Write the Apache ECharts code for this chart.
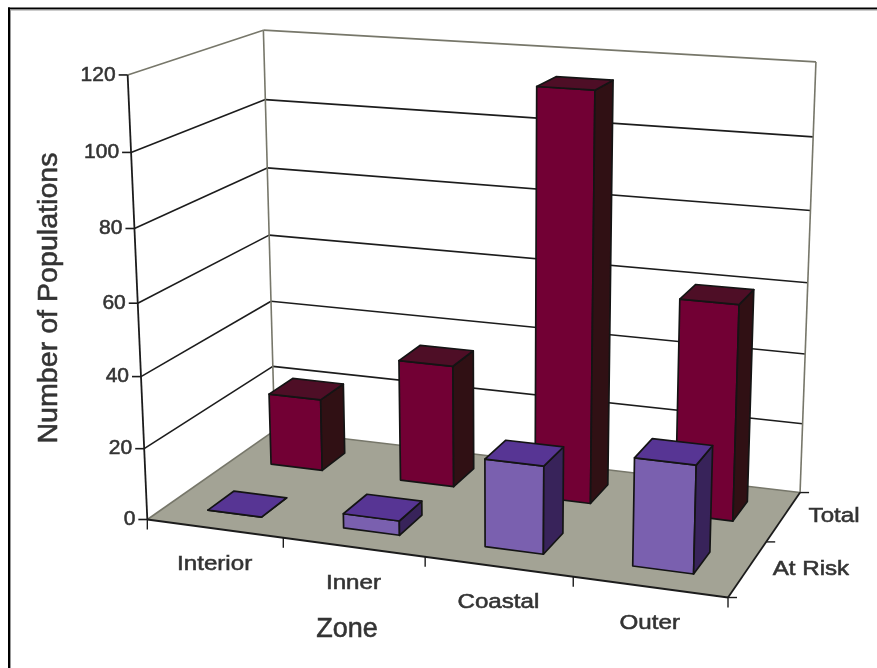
<!DOCTYPE html>
<html>
<head>
<meta charset="utf-8">
<style>html,body{margin:0;padding:0;background:#fff}#chart{width:877px;height:668px}</style>
<script src="https://cdn.jsdelivr.net/npm/echarts@6/dist/echarts.min.js"></script>
</head>
<body>
<div id="chart"></div>
<script>
// Populations per zone, front row first
const zones = ['Interior', 'Inner', 'Coastal', 'Outer'];
const rows = ['At Risk', 'Total'];
const atRisk = [0, 4, 24, 29];
const total = [21, 35, 114, 60];
const valueTicks = [0, 20, 40, 60, 80, 100, 120];
const xTitle = 'Zone';
const yTitle = 'Number of Populations';

const FONT = '"Liberation Sans", Arial, sans-serif';
const TEXT = '#333333';
const FLOOR = '#a3a395';
const WALL_EDGE = '#77776a';
const LINE = '#1c1c1c';
const EDGE = '#141414';
const PURPLE = { front: '#7a60af', top: '#573594', side: '#38235a' };
const MAROON = { front: '#720034', top: '#4e0e26', side: '#301014' };
const BAR_W = 0.40;  // share of a zone band taken by a column
const BAR_D = 0.40;  // share of a depth row taken by a column

// Box corners as [across, depth, height] in unit space, with their place on the page
const anchors = [
  [0, 0, 0, 147, 519], [0, 0, 1, 128, 75],
  [0, 1, 0, 275, 431], [0, 1, 1, 263, 30],
  [1, 1, 0, 800, 492], [1, 1, 1, 816, 62],
  [1, 0, 0, 728, 598]
];

// Least-squares fit of a projective camera to the box corners
function fitCamera(pts) {
  const n = 11, A = Array.from({ length: n }, () => new Array(n + 1).fill(0));
  const add = (row, rhs) => {
    for (let i = 0; i < n; i++) {
      for (let j = 0; j < n; j++) A[i][j] += row[i] * row[j];
      A[i][n] += row[i] * rhs;
    }
  };
  pts.forEach(([X, Y, Z, px, py]) => {
    const u = px / 1000, v = py / 1000;
    add([1, 0, X, 0, Y, 0, Z, 0, -u * X, -u * Y, -u * Z], u);
    add([0, 1, 0, X, 0, Y, 0, Z, -v * X, -v * Y, -v * Z], v);
  });
  for (let i = 0; i < n; i++) {
    let p = i;
    for (let r = i + 1; r < n; r++) if (Math.abs(A[r][i]) > Math.abs(A[p][i])) p = r;
    [A[i], A[p]] = [A[p], A[i]];
    for (let r = 0; r < n; r++) {
      if (r === i) continue;
      const f = A[r][i] / A[i][i];
      for (let c = i; c <= n; c++) A[r][c] -= f * A[i][c];
    }
  }
  return A.map((row, i) => row[n] / row[i]);
}
const cam = fitCamera(anchors);
function project(X, Y, Z) {
  const w = 1 + cam[8] * X + cam[9] * Y + cam[10] * Z;
  return [
    1000 * (cam[0] + cam[2] * X + cam[4] * Y + cam[6] * Z) / w,
    1000 * (cam[1] + cam[3] * X + cam[5] * Y + cam[7] * Z) / w
  ];
}

// Unit-space position of a data point, read through the grid's axes
function unit(api, params, cat, val) {
  const cs = params.coordSys, c = api.coord([cat, val]);
  return [(c[0] - cs.x) / cs.width, (cs.y + cs.height - c[1]) / cs.height];
}
const poly = (points, fill, stroke, lineWidth) => ({
  type: 'polygon', shape: { points },
  style: { fill, stroke: stroke || 'none', lineWidth: lineWidth || 0, lineJoin: 'round' }
});
const seg = (a, b, stroke, lineWidth) => ({
  type: 'line', shape: { x1: a[0], y1: a[1], x2: b[0], y2: b[1] },
  style: { stroke, lineWidth: lineWidth || 1.6, fill: 'none' }
});
const textStyle = (text, fontSize, align, verticalAlign) => ({
  text, fill: TEXT, font: fontSize + 'px ' + FONT, align, verticalAlign,
  stroke: TEXT, lineWidth: 0.55
});
const label = (text, p, align, verticalAlign, fontSize, stretch) => ({
  type: 'text', x: p[0], y: p[1], scaleX: stretch || 1,
  style: textStyle(text, fontSize, align, verticalAlign)
});

// One column: front, right side and top, drawn from its value
function columnRenderer(rowIndex, colors) {
  return function (params, api) {
    const cat = api.value(0), val = api.value(1);
    const band = api.size([1, 0])[0] / params.coordSys.width;
    const [cx, z] = unit(api, params, cat, val);
    const x0 = cx - band * BAR_W / 2, x1 = cx + band * BAR_W / 2;
    const rowD = 1 / rows.length, cy = (rowIndex + 0.5) * rowD;
    const y0 = cy - rowD * BAR_D / 2, y1 = cy + rowD * BAR_D / 2;
    const P = project;
    return {
      type: 'group',
      children: [
        poly([P(x0, y0, 0), P(x1, y0, 0), P(x1, y0, z), P(x0, y0, z)], colors.front, EDGE, 1.7),
        poly([P(x1, y0, 0), P(x1, y1, 0), P(x1, y1, z), P(x1, y0, z)], colors.side, EDGE, 1.7),
        poly([P(x0, y0, z), P(x1, y0, z), P(x1, y1, z), P(x0, y1, z)], colors.top, EDGE, 1.7)
      ]
    };
  };
}

// Walls, floor, gridlines and the labelled ticks around the box
function renderFrame(params, api) {
  const kids = [];
  const corner = project;
  kids.push(poly([corner(0, 0, 0), corner(0, 1, 0), corner(1, 1, 0), corner(1, 0, 0)], FLOOR));
  valueTicks.forEach((t, i) => {
    const z = unit(api, params, 0, t)[1];
    const top = i === valueTicks.length - 1;
    const a = corner(0, 0, z), b = corner(0, 1, z), c = corner(1, 1, z);
    const col = top || i === 0 ? WALL_EDGE : LINE;
    kids.push(seg(a, b, col), seg(b, c, col));
    kids.push(seg([a[0] - 9, a[1]], a, LINE, 1.6));
    kids.push(label(String(t), [a[0] - 12, a[1]], 'right', 'middle', 21));
  });
  kids.push(seg(corner(0, 1, 0), corner(0, 1, 1), WALL_EDGE));
  kids.push(seg(corner(1, 1, 0), corner(1, 1, 1), WALL_EDGE));
  kids.push(seg(corner(0, 0, 0), corner(0, 0, 1), LINE, 1.8));
  kids.push(seg(corner(0, 0, 0), corner(1, 0, 0), LINE, 1.8));
  kids.push(seg(corner(1, 0, 0), corner(1, 1, 0), LINE, 1.8));
  // Zone ticks and names along the front edge
  for (let i = 0; i <= zones.length; i++) {
    const p = corner(i / zones.length, 0, 0);
    kids.push(seg(p, [p[0], p[1] + 10], LINE, 1.4));
  }
  zones.forEach((name, i) => {
    const p = corner((i + 0.5) / zones.length, 0, 0);
    kids.push(label(name, [p[0], p[1] + 36], 'center', 'middle', 21, 1.15));
  });
  // Depth ticks and row names along the right edge
  for (let i = 0; i <= rows.length; i++) {
    const p = corner(1, i / rows.length, 0);
    kids.push(seg(p, [p[0] + 9, p[1]], LINE, 1.4));
  }
  rows.forEach((name, i) => {
    const p = corner(1, (i + 0.5) / rows.length, 0);
    kids.push(label(name, [p[0] + 25, p[1]], 'left', 'middle', 21, 1.15));
  });
  return { type: 'group', children: kids };
}

const chart = echarts.init(document.getElementById('chart'), null, { renderer: 'canvas' });
const hiddenAxis = {
  axisLine: { show: false }, axisTick: { show: false }, axisLabel: { show: false }, splitLine: { show: false }
};
chart.setOption({
  animation: false,
  backgroundColor: '#ffffff',
  grid: { left: 147, top: 75, width: 400, height: 444 },
  xAxis: Object.assign({ type: 'category', data: zones }, hiddenAxis),
  yAxis: Object.assign({ type: 'value', min: 0, max: 120, interval: 20 }, hiddenAxis),
  graphic: [
    { type: 'rect', shape: { x: 8, y: 7.5, width: 869, height: 2 }, style: { fill: '#000' } },
    { type: 'rect', shape: { x: 8, y: 9.5, width: 869, height: 1 }, style: { fill: '#999' } },
    { type: 'rect', shape: { x: 8, y: 7.5, width: 2, height: 661 }, style: { fill: '#000' } },
    { type: 'rect', shape: { x: 10, y: 9.5, width: 1, height: 659 }, style: { fill: '#999' } },
    { type: 'text', x: 347, y: 630, style: textStyle(xTitle, 27, 'center', 'middle') },
    {
      type: 'text', x: 50, y: 298, rotation: Math.PI / 2, scaleX: 1.06,
      style: textStyle(yTitle, 27, 'center', 'middle')
    }
  ],
  series: [
    { type: 'custom', name: 'frame', silent: true, clip: false, z: 1, data: [[0, 0]], renderItem: renderFrame },
    {
      type: 'custom', name: rows[1], clip: false, z: 2,
      data: total.map((v, i) => [i, v]), encode: { x: 0, y: 1 },
      renderItem: columnRenderer(1, MAROON)
    },
    {
      type: 'custom', name: rows[0], clip: false, z: 3,
      data: atRisk.map((v, i) => [i, v]), encode: { x: 0, y: 1 },
      renderItem: columnRenderer(0, PURPLE)
    }
  ]
});
</script>
</body>
</html>
